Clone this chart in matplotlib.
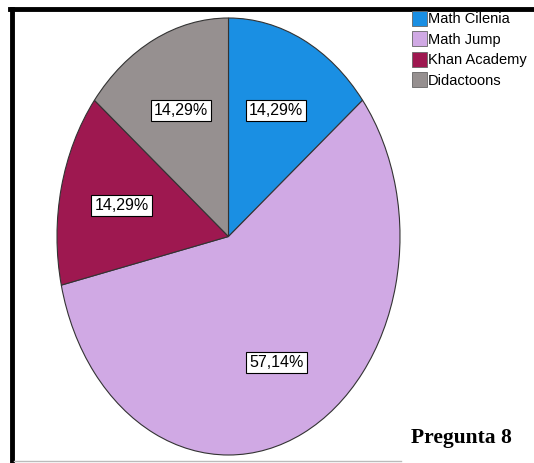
import matplotlib.pyplot as plt
from matplotlib.lines import Line2D

# pie data (4 answers, one per app)
apps = ["Math Cilenia", "Math Jump", "Khan Academy", "Didactoons"]
counts = [1, 4, 1, 1]
colors = ["#1a8fe3", "#d0a9e4", "#9e1850", "#969090"]

sans = ["Liberation Sans Narrow", "Liberation Sans"]

fig = plt.figure(figsize=(5.34, 4.63), dpi=100)
ax = fig.add_axes([57/534, 8/463, 343/534, 437/463])

wedges, texts, autotexts = ax.pie(
    counts, colors=colors, startangle=90, counterclock=False,
    autopct=lambda p: f"{p:.2f}%".replace(".", ","), pctdistance=0.64,
    wedgeprops=dict(edgecolor="#333333", linewidth=0.8),
    textprops=dict(family=sans, fontsize=11.5),
)
for t in autotexts:
    t.set_bbox(dict(boxstyle="square,pad=0.2", facecolor="white", edgecolor="black", linewidth=0.8))
ax.set_aspect("auto")
ax.set_xlim(-1, 1)
ax.set_ylim(-1, 1)

leg = fig.legend(wedges, apps, loc="upper left", bbox_to_anchor=(412/534, 1 - 11/463),
                 frameon=False, prop=dict(family=sans, size=10.5),
                 handlelength=1.0, handleheight=1.2, handletextpad=0.1,
                 labelspacing=0.35, borderpad=0, borderaxespad=0)
for h in leg.legend_handles:
    h.set_edgecolor("#666666")
    h.set_linewidth(0.6)

# frame lines
fig.add_artist(Line2D([12/534, 12/534], [0, 1 - 9/463], color="black", linewidth=3.5))
fig.add_artist(Line2D([10/534, 1], [1 - 9/463, 1 - 9/463], color="black", linewidth=3.5))
fig.add_artist(Line2D([14/534, 0.75], [2/463, 2/463], color="#bbbbbb", linewidth=1))

fig.text(461/534, 1 - 438/463, "Pregunta 8", family="Liberation Serif", weight="bold",
         fontsize=15.5, ha="center", va="center")

fig.savefig("out.png", dpi=100)
